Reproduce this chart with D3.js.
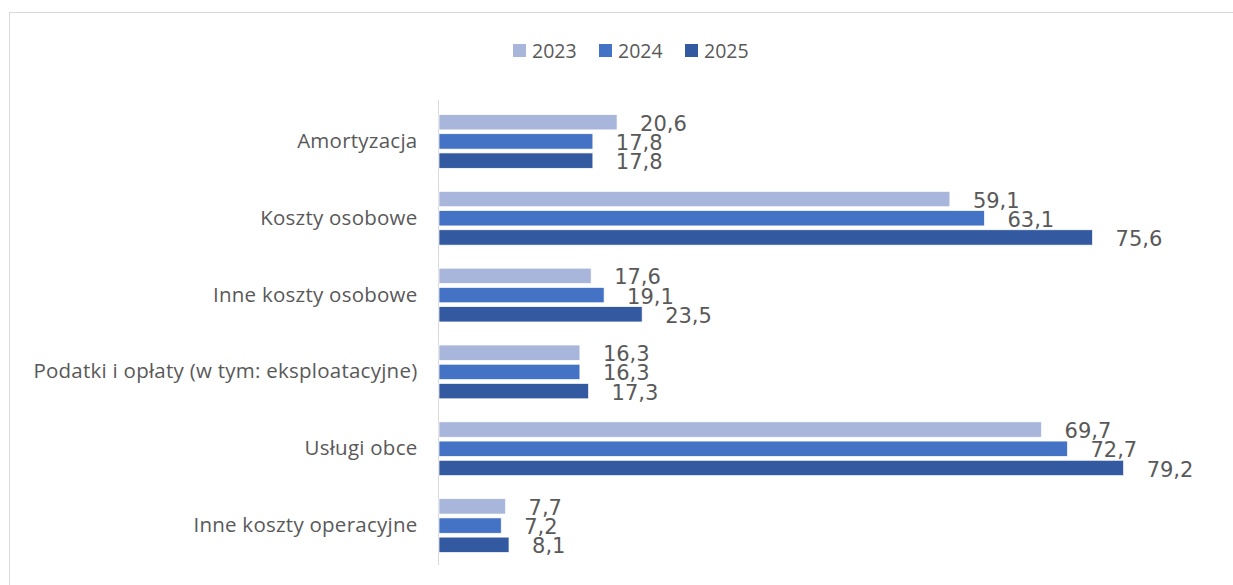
<!DOCTYPE html>
<meta charset="utf-8" />
<style>
  body {
    background: #fff;
    margin: 0px;
  }

  .frame {
    fill: none;
    stroke: #d9d9d9;
    stroke-width: 1px;
  }

  .axis-line {
    stroke: #d9d9d9;
    stroke-width: 1px;
  }

  .legend-label {
    font-family: "Open Sans", sans-serif;
    fill: #595959;
  }

  .value-label {
    font-family: "DejaVu Sans", sans-serif;
    font-size: 21px;
    fill: #595959;
  }
</style>
<body>
<script src="https://cdn.jsdelivr.net/npm/d3@7"></script>
<script>
  var width = 1233,
    height = 585;

  // data
  var categories = [
    "Amortyzacja",
    "Koszty osobowe",
    "Inne koszty osobowe",
    "Podatki i opłaty (w tym: eksploatacyjne)",
    "Usługi obce",
    "Inne koszty operacyjne",
  ];
  var years = ["2023", "2024", "2025"];
  var values2023 = [20.6, 59.1, 17.6, 16.3, 69.7, 7.7];
  var values2024 = [17.8, 63.1, 19.1, 16.3, 72.7, 7.2];
  var values2025 = [17.8, 75.6, 23.5, 17.3, 79.2, 8.1];

  var colors = ["#a9b6db", "#4472c4", "#335aa0"];
  var series = [values2023, values2024, values2025];

  var rows = [];
  categories.forEach(function (c, i) {
    years.forEach(function (y, j) {
      rows.push({ cat: c, year: y, value: series[j][i], idx: j });
    });
  });

  var svg = d3
    .select("body")
    .append("svg")
    .attr("width", width)
    .attr("height", height);

  svg
    .append("rect")
    .attr("class", "frame")
    .attr("x", 9.5)
    .attr("y", 12.5)
    .attr("width", 1240)
    .attr("height", 600);

  var x = d3.scaleLinear().domain([0, 90]).range([439, 1217]);

  var y = d3
    .scaleBand()
    .domain(categories)
    .range([103, 564])
    .paddingInner(0.3)
    .paddingOuter(0.15);

  var yInner = d3
    .scaleBand()
    .domain(years)
    .range([0, y.bandwidth()])
    .paddingInner(0.2);

  var color = d3.scaleOrdinal().domain(years).range(colors);

  // category axis
  var axis = svg
    .append("g")
    .attr("transform", "translate(438.5,0)")
    .call(d3.axisLeft(y).tickSize(0).tickPadding(21));
  axis.select(".domain").remove();
  axis
    .selectAll("text")
    .style("font-size", "20.5px")
    .style("letter-spacing", "0.25px")
    .style("font-family", "'Open Sans', sans-serif")
    .attr("fill", "#595959");

  svg
    .append("line")
    .attr("class", "axis-line")
    .attr("x1", 438.5)
    .attr("x2", 438.5)
    .attr("y1", 100)
    .attr("y2", 565);

  // bars
  svg
    .append("g")
    .selectAll("rect")
    .data(rows)
    .enter()
    .append("rect")
    .attr("x", x(0))
    .attr("y", function (d) {
      return y(d.cat) + yInner(d.year);
    })
    .attr("width", function (d) {
      return x(d.value) - x(0);
    })
    .attr("height", yInner.bandwidth())
    .attr("fill", function (d) {
      return color(d.year);
    })
    .attr("stroke", "#fff")
    .attr("stroke-width", 0.7);

  // value labels
  svg
    .append("g")
    .selectAll("text")
    .data(rows)
    .enter()
    .append("text")
    .attr("class", "value-label")
    .attr("x", function (d) {
      return x(d.value) + 23;
    })
    .attr("y", function (d) {
      return y(d.cat) + yInner(d.year) + yInner.bandwidth() / 2 + 1;
    })
    .attr("dy", "0.36em")
    .text(function (d) {
      return d.value.toFixed(1).replace(".", ",");
    });

  // legend
  var legendX = [513, 599, 685];
  var legend = svg
    .append("g")
    .selectAll("g")
    .data(years)
    .enter()
    .append("g")
    .attr("transform", function (d, i) {
      return "translate(" + legendX[i] + ",44)";
    });

  legend
    .append("rect")
    .attr("width", 13)
    .attr("height", 13)
    .attr("fill", function (d) {
      return color(d);
    });

  legend
    .append("text")
    .attr("class", "legend-label")
    .attr("x", 19)
    .attr("y", 6.5)
    .attr("dy", "0.36em")
    .style("font-size", "19.5px")
    .text(function (d) {
      return d;
    });
</script>
</body>
